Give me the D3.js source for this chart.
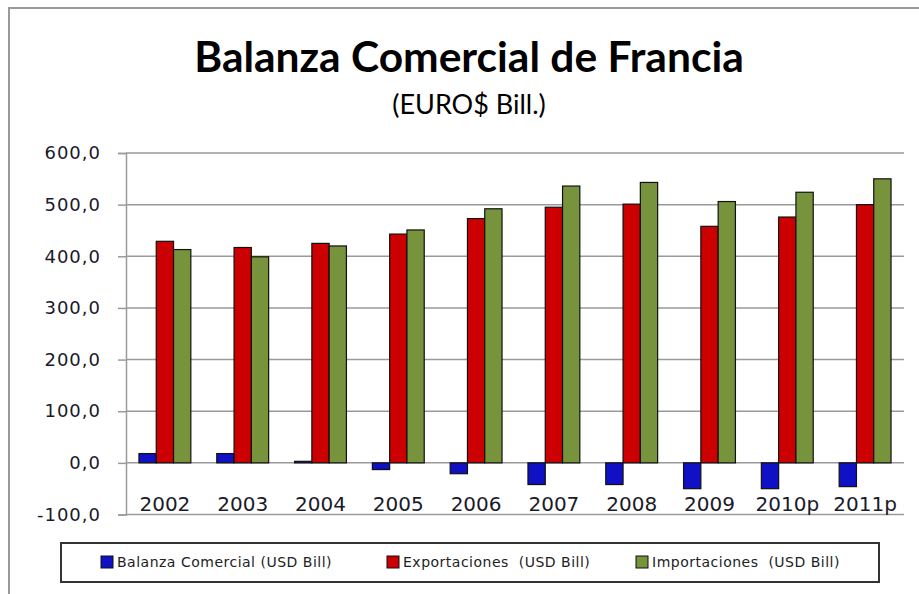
<!DOCTYPE html>
<meta charset="utf-8">
<script src="https://d3js.org/d3.v7.min.js"></script>
<style>
  body { margin: 0; background: #fff; }
</style>
<body>
<div id="chart"></div>
<script>
// data
var years = ["2002", "2003", "2004", "2005", "2006", "2007", "2008", "2009", "2010p", "2011p"];
var balanza = [18, 18, 3, -13, -21, -42, -42, -50, -50, -46];
var exportaciones = [429, 417, 425, 443, 473, 495, 501, 458, 476, 500];
var importaciones = [413, 399, 420, 451, 492, 536, 543, 506, 524, 550];
var seriesNames = ["Balanza Comercial (USD Bill)", "Exportaciones  (USD Bill)", "Importaciones  (USD Bill)"];
var seriesColors = ["#1010c4", "#cc0000", "#77933c"];
var yTicks = [-100, 0, 100, 200, 300, 400, 500, 600];

var width = 919, height = 594;
var svg = d3.select("#chart").append("svg")
  .attr("width", width)
  .attr("height", height);

// outer chart border
svg.append("rect")
  .attr("x", 9).attr("y", 8)
  .attr("width", 930).attr("height", 620)
  .attr("fill", "none")
  .attr("stroke", "#9a9a9a")
  .attr("stroke-width", 2);

// title
svg.append("text")
  .attr("x", 469).attr("y", 72)
  .attr("text-anchor", "middle")
  .attr("font-family", "Lato, 'Open Sans', sans-serif")
  .attr("font-weight", "bold")
  .attr("font-size", "42.5px")
  .attr("fill", "#000")
  .text("Balanza Comercial de Francia");

svg.append("text")
  .attr("x", 469).attr("y", 114)
  .attr("text-anchor", "middle")
  .attr("font-family", "Lato, 'Open Sans', sans-serif")
  .attr("font-size", "27px")
  .attr("fill", "#000")
  .text("(EURO$ Bill.)");

// scales
var plot = { left: 126, right: 904 };
var y = d3.scaleLinear().domain([-100, 600]).range([514.5, 153]);
var x = d3.scaleBand().domain(years).range([plot.left, plot.right]).padding(0);
var xs = d3.scaleBand().domain(d3.range(3)).range([0, x.bandwidth()])
  .paddingInner(0).paddingOuter(0.75);

// comma decimals, plain hyphen for negatives
var locale = d3.formatLocale({ decimal: ",", thousands: ".", grouping: [3], currency: ["", "€"], minus: "-" });
var fmt = locale.format(".1f");

// gridlines
svg.append("g")
  .selectAll("line")
  .data(yTicks)
  .enter()
  .append("line")
  .attr("x1", plot.left).attr("x2", plot.right)
  .attr("y1", function (d) { return y(d); })
  .attr("y2", function (d) { return y(d); })
  .attr("stroke", "#9a9a9a")
  .attr("stroke-width", 1.5);

// y axis
var yAxis = svg.append("g")
  .attr("transform", "translate(" + plot.left + ",0)")
  .call(d3.axisLeft(y).tickValues(yTicks).tickFormat(fmt).tickSize(8).tickPadding(17));
yAxis.select(".domain").attr("stroke", "#9a9a9a").attr("stroke-width", 1.5);
yAxis.selectAll(".tick line").attr("stroke", "#9a9a9a").attr("stroke-width", 1.5);
yAxis.selectAll(".tick text")
  .attr("font-family", "'DejaVu Sans', Verdana, sans-serif")
  .attr("font-size", "18px")
  .attr("letter-spacing", "1px")
  .attr("fill", "#1a1a2a");

// bars
var data = years.map(function (yr, i) {
  return { year: yr, values: [balanza[i], exportaciones[i], importaciones[i]] };
});

var groups = svg.append("g")
  .selectAll("g")
  .data(data)
  .enter()
  .append("g")
  .attr("transform", function (d) { return "translate(" + x(d.year) + ",0)"; });

groups.selectAll("rect")
  .data(function (d) { return d.values.map(function (v, k) { return { k: k, v: v }; }); })
  .enter()
  .append("rect")
  .attr("x", function (d) { return xs(d.k); })
  .attr("width", xs.bandwidth())
  .attr("y", function (d) { return y(Math.max(0, d.v)); })
  .attr("height", function (d) { return Math.abs(y(d.v) - y(0)); })
  .attr("fill", function (d) { return seriesColors[d.k]; })
  .attr("stroke", "#111")
  .attr("stroke-width", 1.2);

// x labels
svg.append("g")
  .selectAll("text")
  .data(years)
  .enter()
  .append("text")
  .attr("x", function (d) { return x(d) + x.bandwidth() / 2; })
  .attr("y", 511)
  .attr("text-anchor", "middle")
  .attr("font-family", "'DejaVu Sans', Verdana, sans-serif")
  .attr("font-size", "20px")
  .attr("fill", "#1a1a2a")
  .text(function (d) { return d; });

// legend
svg.append("rect")
  .attr("x", 61).attr("y", 543)
  .attr("width", 818).attr("height", 39)
  .attr("fill", "#fff")
  .attr("stroke", "#333")
  .attr("stroke-width", 2);

var legendX = [101, 387, 636];
var legend = svg.append("g")
  .selectAll("g")
  .data(seriesNames)
  .enter()
  .append("g")
  .attr("transform", function (d, i) { return "translate(" + legendX[i] + ",556)"; });

legend.append("rect")
  .attr("width", 12).attr("height", 12)
  .attr("fill", function (d, i) { return seriesColors[i]; })
  .attr("stroke", "#111")
  .attr("stroke-width", 1);

legend.append("text")
  .attr("x", 16).attr("y", 11)
  .attr("font-family", "'DejaVu Sans', Tahoma, sans-serif")
  .attr("font-size", "14px")
  .attr("letter-spacing", "0.5px")
  .attr("fill", "#222")
  .style("white-space", "pre")
  .text(function (d) { return d; });
</script>
</body>
